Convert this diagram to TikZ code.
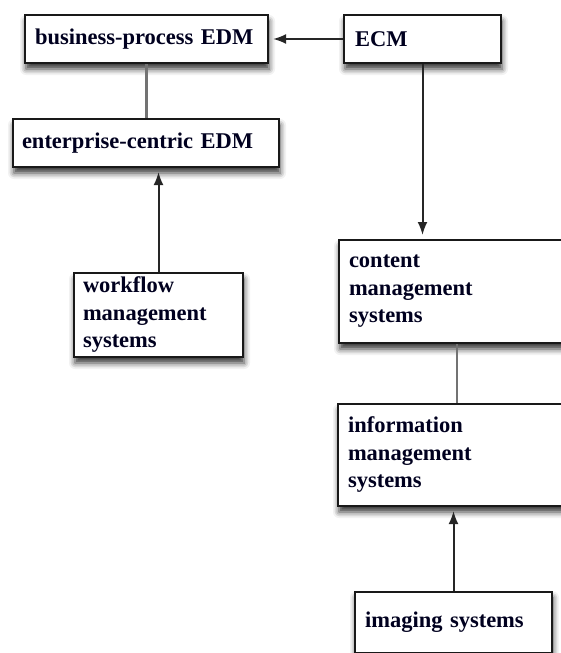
\documentclass[tikz,border=0pt]{standalone}
\usepackage{fontspec}
\setmainfont{Liberation Serif}
\usetikzlibrary{arrows.meta,shadows.blur}
\tikzset{
  box/.style={draw=black!90, line width=2pt, fill=white, rectangle, inner ysep=0pt,
    align=left, font=\bfseries\fontsize{22.5}{27.5}\selectfont, text=black!88!blue,
    blur shadow={shadow xshift=1pt, shadow yshift=-6pt, shadow blur radius=6pt, shadow opacity=80}},
  link/.style={draw=black!55, line width=2.2pt},
  arr/.style={draw=black!85, line width=2pt, -{Latex[length=13pt,width=10pt]}, shorten >=4pt},
}
\begin{document}
\begin{tikzpicture}[x=1pt,y=-1pt]
\useasboundingbox (0,0) rectangle (560,653);
\node[box, minimum width=243pt, minimum height=48pt, text width=223pt] (bp) at (146.5,39) {business-process EDM};
\node[box, minimum width=157pt, minimum height=48pt, text width=135pt] (ecm) at (422.5,39) {ECM};
\node[box, minimum width=266pt, minimum height=48pt, text width=248pt] (ec) at (146,143) {enterprise-centric EDM};
\node[box, minimum width=169pt, minimum height=84pt, text width=151pt] (wf) at (158.5,315) {workflow\\management\\systems};
\node[box, minimum width=236pt, minimum height=103pt, text width=216pt] (cms) at (457,291.5) {content\\management\\systems};
\node[box, minimum width=237pt, minimum height=102pt, text width=217pt] (ims) at (456.5,455) {information\\management\\systems};
\node[box, minimum width=197pt, minimum height=61pt, text width=177pt] (img) at (453.5,622) {imaging systems};
\draw[arr] (ecm.west) -- (bp.east);
\draw[link] (bp.south) -- (bp.south |- ec.north);
\draw[arr] (wf.north) -- (wf.north |- ec.south);
\draw[arr] (ecm.south) -- (ecm.south |- cms.north);
\draw[link] (cms.south) -- (cms.south |- ims.north);
\draw[arr] (img.north) -- (img.north |- ims.south);
\end{tikzpicture}
\end{document}
